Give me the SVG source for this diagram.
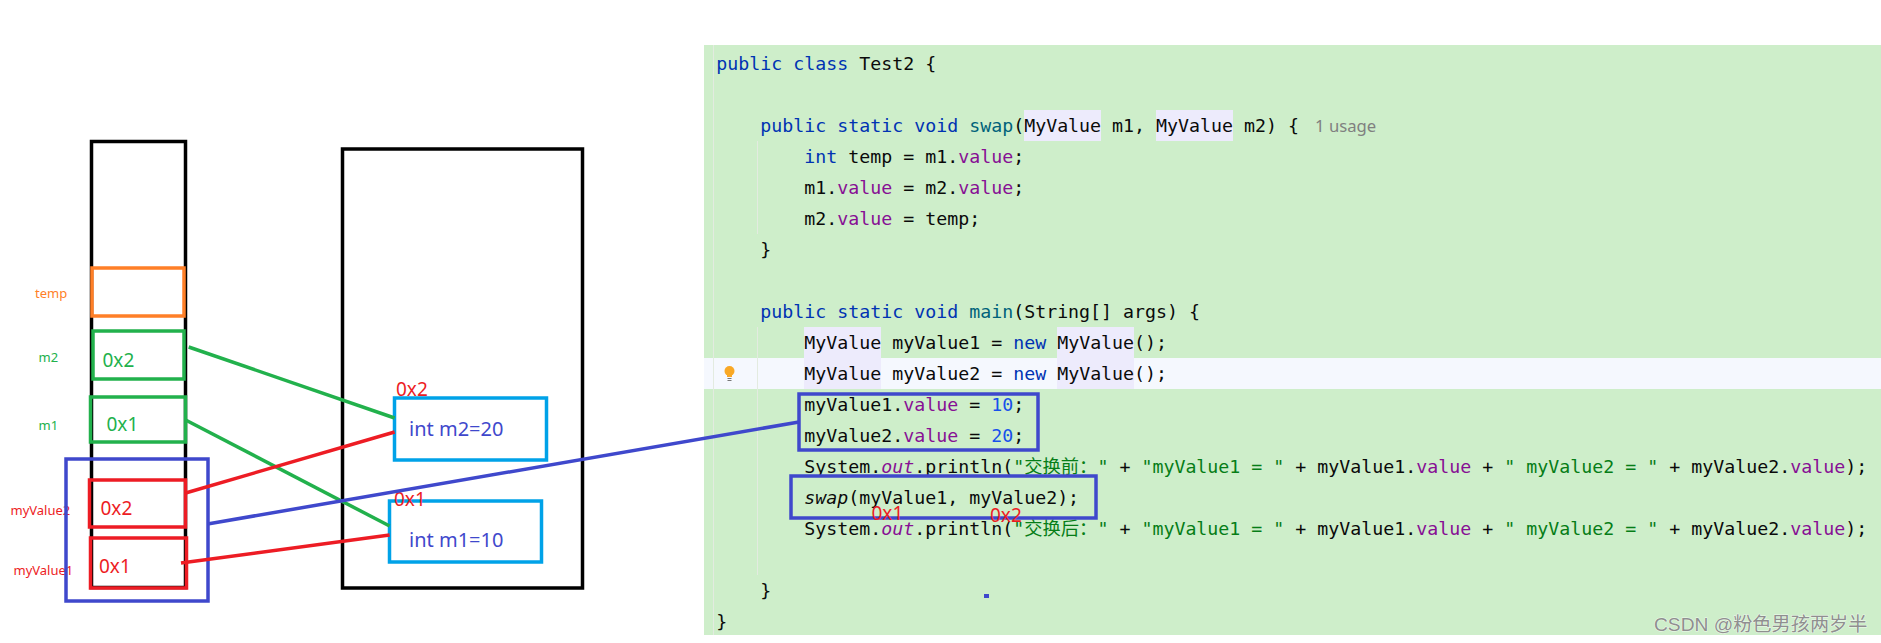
<svg xmlns="http://www.w3.org/2000/svg" width="1881" height="643" viewBox="0 0 1881 643">
<style>
.code{font-family:"DejaVu Sans Mono","Liberation Mono",monospace;font-size:18.27px;fill:#0a0a0a;white-space:pre}
.k{fill:#0033b3}.f{fill:#871094}.s{fill:#067d17}.n{fill:#1750eb}.m{fill:#00627a}.i{font-style:italic}
.cjk{font-family:"Noto Sans CJK SC",sans-serif}
.box{fill:none;stroke-width:3.5}
.line{fill:none;stroke-width:3.5}
.lbl{font-family:"Noto Sans",sans-serif;font-size:13px}
.val{font-family:"Noto Sans",sans-serif;font-size:19px}
.obj{font-family:"Noto Sans",sans-serif;font-size:20px;fill:#3f48cc}
.hl{fill:#edebfc}
.guide{fill:#e3ebe0}
.red{stroke:#ed1c24}.green{stroke:#22b14c}.orange{stroke:#ff7f27}.blue{stroke:#3f48cc}.cyan{stroke:#00a2e8}.black{stroke:#000}
.tr{fill:#ed1c24}.tg{fill:#22b14c}.to{fill:#ff7f27}
</style>
<rect width="1881" height="643" fill="#fff"/>
<g id="code-panel">
<rect x="704" y="45" width="1177" height="590" fill="#ceeeca"/>
<rect x="704" y="358" width="1177" height="31" fill="#f5f8fe"/>
<rect class="guide" x="713" y="45" width="1" height="590"/>
<rect class="guide" x="757" y="141" width="1" height="93"/>
<rect class="guide" x="757" y="327" width="1" height="248"/>
<rect class="hl" x="1024" y="110" width="77" height="31"/>
<rect class="hl" x="1156" y="110" width="77" height="31"/>
<rect class="hl" x="804" y="327" width="77" height="62"/>
<rect class="hl" x="1057" y="327" width="77" height="62"/>
<g id="bulb"><circle cx="729.5" cy="371" r="5" fill="#f9a825"/><rect x="727" y="375" width="5" height="2" fill="#f9a825"/><rect x="727.5" y="378" width="4" height="1" fill="#777"/><rect x="727.5" y="380" width="4" height="1" fill="#777"/></g>
<text class="code" x="716.2" y="70"><tspan class="k">public class</tspan> Test2 {</text>
<text class="code" x="760.2" y="132"><tspan class="k">public static void</tspan> <tspan class="m">swap</tspan>(MyValue m1, MyValue m2) {</text>
<text x="1315" y="132" font-family="Noto Sans, sans-serif" font-size="16.7" fill="#808080">1 usage</text>
<text class="code" x="804.2" y="163"><tspan class="k">int</tspan> temp = m1.<tspan class="f">value</tspan>;</text>
<text class="code" x="804.2" y="194">m1.<tspan class="f">value</tspan> = m2.<tspan class="f">value</tspan>;</text>
<text class="code" x="804.2" y="225">m2.<tspan class="f">value</tspan> = temp;</text>
<text class="code" x="760.2" y="256">}</text>
<text class="code" x="760.2" y="318"><tspan class="k">public static void</tspan> <tspan class="m">main</tspan>(String[] args) {</text>
<text class="code" x="804.2" y="349">MyValue myValue1 = <tspan class="k">new</tspan> MyValue();</text>
<text class="code" x="804.2" y="380">MyValue myValue2 = <tspan class="k">new</tspan> MyValue();</text>
<text class="code" x="804.2" y="411">myValue1.<tspan class="f">value</tspan> = <tspan class="n">10</tspan>;</text>
<text class="code" x="804.2" y="442">myValue2.<tspan class="f">value</tspan> = <tspan class="n">20</tspan>;</text>
<text class="code" x="804.2" y="473">System.<tspan class="f i">out</tspan>.println(<tspan class="s">"</tspan><tspan class="s cjk" x="1024.2">交换前：</tspan><tspan class="s" x="1097.4">" </tspan>+ <tspan class="s">"myValue1 = "</tspan> + myValue1.<tspan class="f">value</tspan> + <tspan class="s">" myValue2 = "</tspan> + myValue2.<tspan class="f">value</tspan>);</text>
<text class="code" x="804.2" y="504"><tspan class="i">swap</tspan>(myValue1, myValue2);</text>
<text class="code" x="804.2" y="535">System.<tspan class="f i">out</tspan>.println(<tspan class="s">"</tspan><tspan class="s cjk" x="1024.2">交换后：</tspan><tspan class="s" x="1097.4">" </tspan>+ <tspan class="s">"myValue1 = "</tspan> + myValue1.<tspan class="f">value</tspan> + <tspan class="s">" myValue2 = "</tspan> + myValue2.<tspan class="f">value</tspan>);</text>
<text class="code" x="760.2" y="597">}</text>
<text class="code" x="716.2" y="628">}</text>
</g>
<g id="stack"><rect class="box black" x="91.5" y="141.5" width="94" height="446"/></g>
<g id="heap"><rect class="box black" x="342.5" y="149" width="240" height="439"/></g>
<g id="node-temp"><rect class="box orange" x="92" y="268" width="92" height="48"/><text class="lbl to" x="35" y="298">temp</text></g>
<g id="node-m2"><rect class="box green" x="93" y="331" width="91" height="48"/><text class="lbl tg" x="38.5" y="362">m2</text><text class="val tg" x="102.5" y="367">0x2</text></g>
<g id="node-m1"><rect class="box green" x="90.5" y="397" width="95" height="45"/><text class="lbl tg" x="38.5" y="430">m1</text><text class="val tg" x="106.5" y="431">0x1</text></g>
<g id="node-myValue2"><rect class="box red" x="89.5" y="480" width="96" height="47"/><text class="lbl tr" x="10.5" y="515">myValue2</text><text class="val tr" x="100.5" y="515">0x2</text></g>
<g id="node-myValue1"><rect class="box red" x="90.5" y="538" width="96" height="50"/><text class="lbl tr" x="13.5" y="575">myValue1</text><text class="val tr" x="99" y="573">0x1</text></g>
<g id="node-args-box"><rect class="box blue" x="66" y="459" width="142" height="142"/></g>
<g id="node-obj-m2"><rect class="box cyan" x="394.5" y="398" width="152" height="62"/><text class="obj" x="409" y="436">int m2=20</text><text class="val tr" x="396" y="396">0x2</text></g>
<g id="node-obj-m1"><rect class="box cyan" x="389.5" y="501" width="152" height="61"/><text class="obj" x="409" y="547">int m1=10</text><text class="val tr" x="394" y="506">0x1</text></g>
<g id="node-assign-box"><rect class="box blue" x="799" y="394" width="239" height="56"/></g>
<g id="node-swap-box"><rect class="box blue" x="791" y="476" width="305" height="42"/><text class="val tr" x="871.5" y="520">0x1</text><text class="val tr" x="990" y="522">0x2</text></g>
<g id="connectors">
<line class="line green" x1="188.7" y1="347" x2="394.6" y2="418"/>
<line class="line green" x1="185.6" y1="420" x2="389.6" y2="526"/>
<line class="line red" x1="185.6" y1="493" x2="394.6" y2="432"/>
<line class="line red" x1="181" y1="563" x2="389.6" y2="535"/>
<line class="line blue" x1="207.5" y1="524" x2="799" y2="422"/>
</g>
<rect id="dot" x="984" y="594" width="5" height="4" fill="#3f48cc"/>
<text id="watermark" x="1654" y="631" font-family="Liberation Sans, Noto Sans CJK SC, sans-serif" font-size="19.2" fill="#8f8f8f" stroke="#ffffff" stroke-opacity=".7" stroke-width="1" paint-order="stroke">CSDN @粉色男孩两岁半</text>
</svg>
